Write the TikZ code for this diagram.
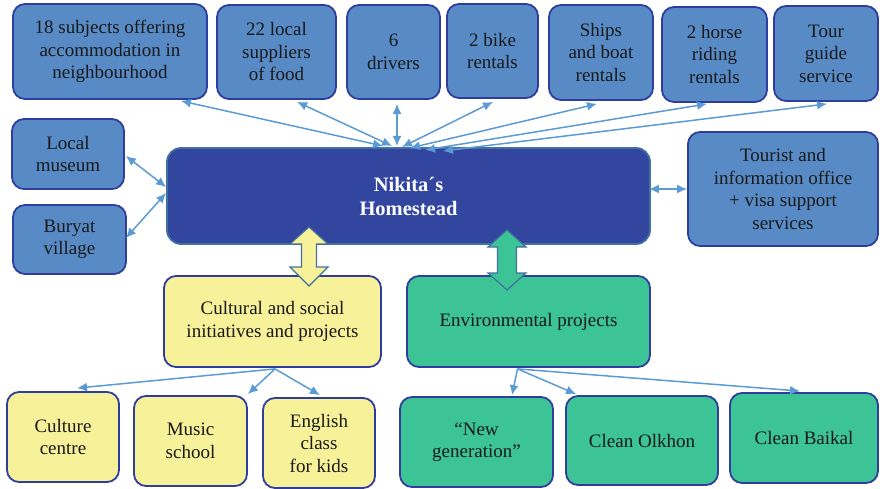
\documentclass[tikz,border=0pt]{standalone}
\usepackage{fontspec}
\setmainfont{Liberation Serif}
\usetikzlibrary{arrows.meta}
\definecolor{boxblue}{RGB}{88,139,198}
\definecolor{boxedge}{RGB}{47,62,158}
\definecolor{homefill}{RGB}{50,70,160}
\definecolor{homeedge}{RGB}{65,113,156}
\definecolor{paleyellow}{RGB}{247,241,153}
\definecolor{seagreen}{RGB}{60,196,150}
\definecolor{linkblue}{RGB}{91,155,213}
\definecolor{inktext}{RGB}{25,25,25}
\tikzset{
  card/.style={draw=boxedge, line width=1.8pt, rounded corners=12pt, align=center,
    text=inktext, inner sep=0pt, font=\fontsize{19}{22.5}\selectfont},
  bluecard/.style={card, fill=boxblue},
  yellowcard/.style={card, fill=paleyellow},
  greencard/.style={card, fill=seagreen},
  homecard/.style={draw=homeedge, fill=homefill, line width=1.8pt, rounded corners=14pt,
    align=center, text=white, font=\fontsize{20.5}{24}\selectfont\bfseries},
  link/.style={draw=linkblue, line width=1.5pt, {Latex[length=10pt,width=9pt]}-{Latex[length=10pt,width=9pt]}},
  onelink/.style={draw=linkblue, line width=1.5pt, -{Latex[length=10pt,width=9pt]}},
  blockarrow/.style={draw=homeedge, line width=1.2pt, line join=miter}
}
\begin{document}
\begin{tikzpicture}[x=1pt,y=-1pt]
\useasboundingbox (0,0) rectangle (880,489);

% partner boxes along the top
\node[bluecard, minimum width=194pt, minimum height=95pt] (sub18) at (110,51.5)
  {18 subjects offering\\accommodation in\\neighbourhood};
\node[bluecard, minimum width=119pt, minimum height=94pt] (food) at (276.5,52)
  {22 local\\suppliers\\of food};
\node[bluecard, minimum width=93pt, minimum height=94pt] (drivers) at (393.5,52)
  {6\\drivers};
\node[bluecard, minimum width=91pt, minimum height=94pt] (bike) at (492.5,51)
  {2 bike\\rentals};
\node[bluecard, minimum width=104pt, minimum height=95pt] (ships) at (601,52.5)
  {Ships\\and boat\\rentals};
\node[bluecard, minimum width=105pt, minimum height=95pt] (horse) at (714.5,54.5)
  {2 horse\\riding\\rentals};
\node[bluecard, minimum width=104pt, minimum height=95pt] (tour) at (826,53.5)
  {Tour\\guide\\service};

% side boxes
\node[bluecard, minimum width=112pt, minimum height=70pt] (museum) at (68,154)
  {Local\\museum};
\node[bluecard, minimum width=113pt, minimum height=69pt] (buryat) at (69.5,239.5)
  {Buryat\\village};
\node[bluecard, minimum width=190pt, minimum height=114pt] (info) at (783,189)
  {Tourist and\\information office\\+ visa support\\services};

% the homestead
\node[homecard, minimum width=483pt, minimum height=96pt] (home) at (408.5,196)
  {Nikita\textasciiacute s\\Homestead};

% project groups
\node[yellowcard, minimum width=217pt, minimum height=91pt] (cult) at (272.5,321.5)
  {Cultural and social\\initiatives and projects};
\node[greencard, minimum width=243pt, minimum height=91pt] (env) at (528.5,321.5)
  {Environmental projects};

% projects
\node[yellowcard, minimum width=112pt, minimum height=90pt] (ccentre) at (63,437)
  {Culture\\centre};
\node[yellowcard, minimum width=113pt, minimum height=90pt] (music) at (190.5,441)
  {Music\\school};
\node[yellowcard, minimum width=112pt, minimum height=90pt] (english) at (319,443)
  {English\\class\\for kids};
\node[greencard, minimum width=153pt, minimum height=90pt] (newgen) at (476.5,442)
  {``New\\generation''};
\node[greencard, minimum width=152pt, minimum height=89pt] (olkhon) at (642,440.5)
  {Clean Olkhon};
\node[greencard, minimum width=148pt, minimum height=90pt] (baikal) at (804,438)
  {Clean Baikal};

% meeting points on the homestead's top edge
\coordinate (h1) at (383,146);
\coordinate (h2) at (392,146);
\coordinate (h3) at (397,146);
\coordinate (h4) at (402,147);
\coordinate (h5) at (410,148);
\coordinate (h6) at (425,150);
\coordinate (h7) at (443,151);

% two-way links to the partners
\draw[link] ([xshift=-27pt,yshift=-1pt]sub18.south east) -- (h1);
\draw[link] ([xshift=20.5pt,yshift=-2pt]food.south) -- (h2);
\draw[link] ([xshift=3.5pt,yshift=-4pt]drivers.south) -- (h3);
\draw[link] ([xshift=0.5pt,yshift=-3pt]bike.south) -- (h4);
\draw[link] ([xshift=-4pt,yshift=-3pt]ships.south) -- (h5);
\draw[link] ([xshift=-7.5pt,yshift=-1pt]horse.south) -- (h6);
\draw[link] ([xshift=1pt,yshift=-2pt]tour.south) -- (h7);
\draw[link] ([yshift=-2pt,xshift=1pt]museum.east) -- ([yshift=9pt]home.west);
\draw[link] ([yshift=1.5pt,xshift=-1pt]buryat.east) -- ([yshift=3pt]home.west);
\draw[link] ([yshift=7pt,xshift=-2pt]home.east) -- ([yshift=0pt]info.west);

% wide two-headed arrows to the project groups
\begin{scope}[shift={(309,0)}]
\draw[blockarrow, fill=paleyellow] (0,227) -- (19,244) -- (7.5,244) -- (7.5,267) -- (19,267)
  -- (0,286) -- (-19,267) -- (-7.5,267) -- (-7.5,244) -- (-19,244) -- cycle;
\end{scope}
\begin{scope}[shift={(507,0)}]
\draw[blockarrow, fill=seagreen] (0,230) -- (19,247) -- (9.5,247) -- (9.5,273) -- (19,273)
  -- (0,290) -- (-19,273) -- (-9.5,273) -- (-9.5,247) -- (-19,247) -- cycle;
\end{scope}

% links to the individual projects
\draw[onelink] ([xshift=2.5pt,yshift=-1pt]cult.south) -- ([xshift=14pt,yshift=3pt]ccentre.north);
\draw[onelink] ([xshift=2.5pt,yshift=-1pt]cult.south) -- ([yshift=1pt]music.north east);
\draw[onelink] ([xshift=2.5pt,yshift=-1pt]cult.south) -- ([xshift=1pt,yshift=2pt]english.north);
\draw[onelink] ([xshift=-11pt,yshift=-1pt]env.south) -- ([xshift=35.5pt,yshift=1pt]newgen.north);
\draw[onelink] ([xshift=-11pt,yshift=-1pt]env.south) -- ([xshift=11pt,yshift=1pt]olkhon.north west);
\draw[onelink] ([xshift=-11pt,yshift=-1pt]env.south) -- ([xshift=-4pt,yshift=1pt]baikal.north);
\end{tikzpicture}
\end{document}
